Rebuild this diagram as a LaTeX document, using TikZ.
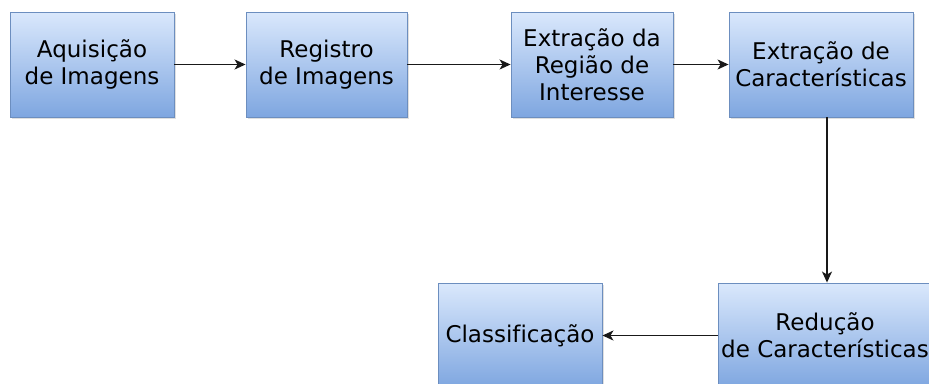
\documentclass[tikz,border=0pt]{standalone}
\usepackage{fontspec}
\setmainfont[Ligatures={NoCommon}]{DejaVu Sans}
\usetikzlibrary{arrows.meta,shadows}
\definecolor{boxtop}{RGB}{218,232,252}
\definecolor{boxbot}{RGB}{126,166,224}
\definecolor{boxline}{RGB}{108,142,191}
\begin{document}
\begin{tikzpicture}[x=1pt,y=-1pt,
  stage/.style={draw=boxline, line width=0.9pt, top color=boxtop, bottom color=boxbot,
    minimum height=105pt, inner sep=0pt, align=center,
    font=\fontsize{23}{27}\selectfont,
    drop shadow={shadow xshift=1.5pt, shadow yshift=-1.5pt, opacity=0.25}},
  arr/.style={-{Stealth[length=11pt,width=10pt,inset=3pt]}, line width=1.4pt, draw=black!90}]
\useasboundingbox (0,0) rectangle (929,383);
\node[stage, minimum width=164pt] (b1) at (92,64.5) {Aquisição\\de Imagens};
\node[stage, minimum width=161pt] (b2) at (326.5,64.5) {Registro\\de Imagens};
\node[stage, minimum width=162pt] (b3) at (592,64.5) {Extração da\\Região de\\Interesse};
\node[stage, minimum width=184pt] (b4) at (821,64.5) {Extração de\\Características};
\node[stage, minimum width=214pt] (b5) at (825,335.5) {Redução\\de Características};
\node[stage, minimum width=164pt] (b6) at (520,335.5) {Classificação};
\draw[arr] (b1) -- (b2);
\draw[arr] (b2) -- (b3);
\draw[arr] (b3) -- (b4);
\draw[arr] ([xshift=6pt]b4.south) -- ([xshift=6pt]b4.south |- b5.north);
\draw[arr] (b5) -- (b6);
\end{tikzpicture}
\end{document}
